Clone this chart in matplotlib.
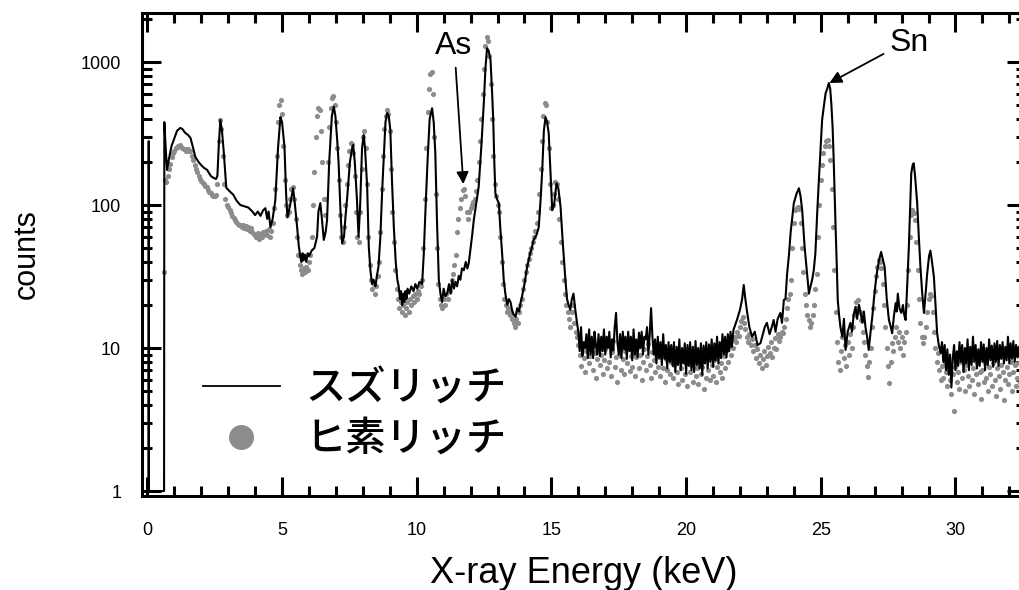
import numpy as np
import matplotlib
matplotlib.use("Agg")
import matplotlib.pyplot as plt
from matplotlib.lines import Line2D
from matplotlib.ticker import MultipleLocator, LogLocator, NullFormatter
from matplotlib.font_manager import FontProperties

plt.rcParams['font.family'] = ['Liberation Sans', 'DejaVu Sans']

# black line: Sn-rich sample (energy keV, counts)
line1_e = [0.00, 0.04, 0.05, 0.06, 0.62, 0.63, 0.68, 0.73, 0.80, 0.90, 0.98, 1.10, 1.22, 1.30, 1.40, 1.50,
           1.60, 1.70, 1.78, 1.90, 2.00, 2.10, 2.22, 2.35, 2.45, 2.55, 2.60, 2.65, 2.71, 2.77, 2.83, 2.93,
           3.05, 3.19, 3.30, 3.45, 3.60, 3.75, 3.90, 4.00, 4.10, 4.20, 4.30, 4.38, 4.45, 4.50, 4.57, 4.65,
           4.75, 4.85, 4.94, 5.00, 5.09, 5.15, 5.20, 5.30, 5.41, 5.48, 5.56, 5.62, 5.68, 5.72, 5.76, 5.80,
           5.85, 5.90, 5.95, 6.00, 6.10, 6.20, 6.30, 6.35, 6.42, 6.48, 6.55, 6.62, 6.67, 6.75, 6.85, 6.92,
           6.98, 7.05, 7.10, 7.17, 7.23, 7.30, 7.36, 7.42, 7.52, 7.60, 7.64, 7.70, 7.78, 7.84, 7.90, 7.97,
           8.03, 8.08, 8.16, 8.22, 8.28, 8.34, 8.40, 8.47, 8.52, 8.58, 8.65, 8.72, 8.77, 8.84, 8.90, 8.96,
           9.02, 9.08, 9.15, 9.22, 9.28, 9.33, 9.38, 9.42, 9.46, 9.50, 9.54, 9.58, 9.62, 9.66, 9.72, 9.80,
           9.88, 9.95, 10.02, 10.10, 10.20, 10.26, 10.32, 10.40, 10.48, 10.57, 10.63, 10.69, 10.75, 10.82,
           10.88, 10.94, 11.00, 11.06, 11.13, 11.20, 11.26, 11.32, 11.38, 11.44, 11.50, 11.56, 11.62, 11.68,
           11.75, 11.82, 11.88, 11.93, 12.00, 12.06, 12.12, 12.20, 12.30, 12.40, 12.49, 12.55, 12.61, 12.67,
           12.74, 12.80, 12.84, 12.88, 12.92, 12.98, 13.05, 13.10, 13.17, 13.23, 13.29, 13.36, 13.42, 13.48,
           13.55, 13.61, 13.67, 13.73, 13.80, 13.86, 13.91, 14.00, 14.10, 14.20, 14.27, 14.34, 14.45, 14.53,
           14.60, 14.66, 14.72, 14.78, 14.84, 14.90, 14.96, 15.03, 15.10, 15.19, 15.26, 15.34, 15.42, 15.52,
           15.58, 15.64, 15.70, 15.76, 15.82, 15.88, 15.95]
line1_c = [1, 1, 280, 1, 1, 380, 250, 176, 210, 260, 285, 330, 346, 340, 320, 310,
           295, 250, 217, 200, 190, 182, 176, 160, 155, 152, 160, 260, 393, 330, 243, 132,
           125, 118, 108, 100, 98, 96, 90, 85, 90, 84, 92, 95, 80, 90, 70, 80,
           108, 250, 412, 380, 255, 120, 82, 100, 131, 100, 70, 52, 43, 40, 46, 41,
           45, 40, 46, 44, 48, 50, 60, 90, 103, 80, 57, 65, 78, 200, 420, 487,
           420, 280, 196, 90, 54, 60, 85, 114, 200, 250, 263, 200, 110, 60, 100, 250,
           309, 250, 134, 51, 35, 28, 30, 27, 32, 37, 60, 130, 206, 380, 440, 420,
           335, 150, 70, 40, 30, 27, 22, 25, 20, 24, 21, 25, 22, 26, 24, 27,
           25, 28, 26, 29, 28, 45, 88, 200, 400, 475, 380, 230, 80, 30,
           24, 21, 26, 23, 24, 28, 24, 30, 26, 29, 27, 32, 30, 36,
           35, 40, 36, 39, 50, 62, 79, 100, 134, 260, 517, 900, 1250, 1200,
           1030, 600, 393, 200, 121, 110, 103, 70, 46, 30, 24, 20, 22, 21,
           18, 17, 16.5, 19, 18, 21, 23, 28, 37, 45, 50, 57, 62, 70,
           110, 176, 330, 412, 380, 318, 180, 92, 100, 142, 130, 97, 55, 30,
           22, 20, 18.5, 22, 24, 19, 15]

# noisy flat stretch of the black line, 0.05 keV channels from 16.00 keV
noise1_start = 16.00
noise1_c = [13, 9.5, 14, 8.8, 11, 10, 12.5, 8.5, 13.5, 9,
            12, 8.5, 13, 10.5, 9, 12.5, 8.8, 12, 9.5, 13.5,
            9, 12, 10, 13, 8.6, 11.5, 9.6, 14, 17.6, 11,
            9, 12.5, 8.5, 13, 9.8, 12, 8.4, 13, 9.5, 12,
            8.2, 13.5, 9, 11.5, 8.6, 12.8, 10, 13, 9, 12,
            11.5, 14, 9, 12.5, 19, 12, 9, 11.5, 7.8, 12,
            8.5, 11, 7.6, 12.5, 8.4, 10.5, 7.2, 11, 8, 10.5,
            7.5, 11, 6.8, 10.2, 7.6, 11.5, 7, 10, 7.8, 10.8,
            6.6, 10.5, 7.5, 11, 7, 10.2, 6.8, 11.2, 7.6, 10,
            7.2, 10.8, 6.5, 10.4, 7.8, 11, 7.2, 10.6, 8, 11.5,
            7.4, 10.8, 8.2, 12, 7.8, 11, 8.5, 12.5, 9, 12,
            8.6, 12.5, 9.5, 13, 10.2]

line2_e = [21.76, 21.90, 22.00, 22.08, 22.14, 22.20, 22.27, 22.35, 22.45, 22.55, 22.65, 22.76, 22.85, 22.92,
           23.00, 23.10, 23.18, 23.25, 23.32, 23.40, 23.50, 23.56, 23.63, 23.69, 23.75, 23.82, 23.88, 23.95,
           24.00, 24.10, 24.19, 24.25, 24.31, 24.40, 24.50, 24.56, 24.62, 24.68, 24.74, 24.80, 24.87, 24.93,
           25.00, 25.05, 25.12, 25.18, 25.24, 25.30, 25.35, 25.39, 25.44, 25.48, 25.52, 25.55, 25.60, 25.63,
           25.68, 25.73, 25.80, 25.86, 25.92, 26.00, 26.10, 26.16, 26.22, 26.29, 26.35, 26.42, 26.48, 26.55,
           26.60, 26.66, 26.72, 26.78, 26.85, 26.92, 26.97, 27.05, 27.10, 27.16, 27.24, 27.30, 27.37, 27.45,
           27.53, 27.60, 27.65, 27.72, 27.78, 27.82, 27.86, 27.92, 27.99, 28.05, 28.10, 28.15, 28.20, 28.27,
           28.32, 28.36, 28.41, 28.45, 28.50, 28.58, 28.64, 28.70, 28.76, 28.83, 28.90, 28.95, 29.02, 29.07,
           29.13, 29.20, 29.26, 29.32, 29.38, 29.45]
line2_c = [13.4, 16, 18.5, 22, 27.6, 22, 17.6, 14, 12, 13, 10.5, 10.8, 12.5, 14,
           15, 12.5, 14, 15.7, 13, 16, 17.6, 15, 21.7, 22, 33, 45, 64, 85,
           103, 120, 131, 115, 92, 51, 31.5, 24, 27, 30, 35, 46, 90, 150,
           260, 393, 500, 605, 650, 713, 650, 517, 350, 206, 110, 70, 35, 21.7,
           17, 14, 12, 16, 9.7, 13, 15, 13, 17, 19.4, 16, 20, 17.6, 15,
           18, 14, 12, 9.7, 13, 17, 21.7, 30, 35, 41, 47, 42, 37, 22,
           15.7, 14, 12.7, 17, 20.6, 18, 24, 19, 17.6, 20, 17, 15.7, 25, 51,
           100, 167, 190, 196, 160, 103, 60, 37, 25, 17.6, 25, 33, 44, 48,
           40, 31.5, 20, 12.7, 10.5, 9.2]

# noisy tail of the black line, 0.05 keV channels from 29.50 keV
noise2_start = 29.50
noise2_c = [11, 8, 10.5, 7, 9.8, 6.5, 9, 5.3, 8.5, 10.5,
            7, 9.5, 7.5, 11, 8, 10.5, 6.8, 10, 7.8, 11.5,
            7, 10.2, 7.6, 12, 8, 10.5, 7.2, 9.8, 7.5, 11,
            8, 10.6, 7, 10, 7.6, 11.5, 8.2, 10.4, 7.4, 10.8,
            8, 11.2, 7.5, 10.5, 8.4, 11, 7.8, 10.2, 8.2, 12,
            7.8, 10.8, 8.4, 11.2, 8, 10.5, 8.6, 10.2, 8.2, 11,
            8.5, 10.4, 9]

# grey dots: As-rich sample, one value per 0.05 keV channel starting at 0.60 keV
dot_start = 0.60
dot_c = [34, 150, 145, 160, 180, 195, 215, 230,                     # 0.60
         240, 250, 255, 258, 262, 255, 250, 245, 248, 240,          # 1.00
         245, 240, 238, 220, 205, 190, 180, 170, 160, 152,          # 1.50
         148, 143, 140, 136, 134, 128, 124, 121, 118, 116,          # 2.00
         115, 118, 140, 280, 390, 340, 220, 140, 110, 100,          # 2.50
         97, 92, 88, 84, 81, 78, 76, 74, 72, 73,                    # 3.00
         70, 72, 69, 71, 68, 70, 66, 69, 65, 63,                    # 3.50
         62, 60, 64, 58, 62, 60, 65, 63, 66, 62,                    # 4.00
         68, 60, 66, 75, 95, 130, 220, 380, 500, 540,               # 4.50
         430, 260, 150, 100, 85, 90, 110, 130, 134, 110,            # 5.00
         80, 60, 45, 38, 35, 33, 36, 34, 37, 35,                    # 5.50
         40, 45, 60, 100, 170, 300, 420, 480, 460, 330,             # 6.00
         200, 110, 85, 110, 200, 350, 480, 560, 575, 500,           # 6.50
         380, 250, 150, 85, 60, 55, 70, 100, 140, 190,              # 7.00
         240, 270, 265, 230, 160, 90, 60, 55, 90, 180,              # 7.50
         300, 330, 250, 140, 60, 38, 30, 26, 28, 24,                # 8.00
         27, 32, 40, 65, 130, 220, 340, 420, 460, 430,              # 8.50
         330, 180, 90, 55, 35, 26, 22, 19, 21, 18,                  # 9.00
         20, 17, 19, 21, 18, 22, 20, 23, 21, 24,                    # 9.50
         22, 25, 24, 27, 30, 50, 110, 250, 450, 650,                # 10.00
         820, 850, 600, 300, 120, 50, 28, 22, 20, 19,               # 10.50
         22, 20, 24, 22, 26, 25, 30, 33, 38, 45,                    # 11.00
         65, 80, 95, 110, 127, 130, 115, 90, 80, 90,                # 11.50
         95, 100, 105, 110, 125, 150, 200, 280, 400, 600,           # 12.00
         900, 1300, 1500, 1400, 1100, 700, 400, 220, 140, 115,      # 12.50
         100, 90, 60, 40, 28, 22, 20, 18, 19, 17,                   # 13.00
         18, 16, 15, 14, 16, 15, 18, 20, 22, 26,                    # 13.50
         30, 34, 38, 42, 46, 50, 55, 60, 66, 75,                    # 14.00
         90, 120, 180, 280, 420, 520, 500, 380, 250, 140,           # 14.50
         95, 100, 120, 145, 140, 110, 80, 55, 40, 30,               # 15.00
         24, 20, 18, 16, 14, 18, 20, 15, 13, 12,                    # 15.50
         10.5, 9.0, 7.5, 10.0, 8.5, 6.8, 9.5, 11.0, 7.8, 8.8,       # 16.00
         10.2, 7.0, 9.2, 6.2, 8.4, 10.8, 7.6, 9.0, 6.6, 8.2,        # 16.50
         9.8, 7.2, 10.5, 8.0, 6.4, 9.4, 11.2, 7.4, 8.6, 5.8,        # 17.00
         9.0, 10.0, 7.0, 8.4, 6.6, 9.6, 7.8, 10.4, 6.9, 8.8,        # 17.50
         7.4, 9.2, 6.4, 8.6, 10.2, 7.2, 9.0, 6.0, 8.0, 9.8,         # 18.00
         7.0, 8.8, 10.6, 7.6, 6.2, 9.4, 8.2, 6.8, 9.0, 7.4,         # 18.50
         8.6, 6.4, 9.6, 7.2, 5.8, 8.4, 7.0, 9.2, 6.6, 8.0,          # 19.00
         6.2, 7.6, 9.0, 6.8, 5.6, 8.2, 7.2, 6.0, 8.8, 6.6,          # 19.50
         7.8, 5.4, 8.4, 6.8, 7.6, 5.8, 9.0, 6.4, 7.2, 5.6,          # 20.00
         8.0, 6.6, 7.4, 5.2, 8.6, 6.2, 7.0, 9.2, 6.0, 7.6,          # 20.50
         6.4, 8.2, 5.8, 7.4, 9.0, 6.8, 7.8, 6.2, 8.8, 7.2,          # 21.00
         9.6, 8.0, 10.4, 9.0, 11.4, 10.0, 12.0, 11.0, 13.0, 12.2,   # 21.50
         14, 15.5, 16.5, 15, 13.5, 12, 11, 12.5, 10.5, 11.5,        # 22.00
         9.5, 10.5, 8.5, 9.8, 7.8, 9.0, 7.2, 8.4, 9.6, 7.6,         # 22.50
         8.8, 10.2, 9.2, 11.0, 8.6, 10.0, 11.8, 9.8, 12.6, 11.2,    # 23.00
         12, 13, 12.7, 14, 16, 19, 22, 24, 30, 50,                  # 23.50
         75, 92, 95, 97, 94, 75, 50, 34, 24, 20,                    # 24.00
         17, 15.7, 14, 15, 17, 20, 26, 33, 60, 100,                 # 24.50
         150, 190, 230, 260, 280, 285, 260, 206, 130, 70,           # 25.00
         35, 18, 11, 8, 7, 9.5, 12, 8.5, 10.5, 7.5,                 # 25.50
         11, 9, 12.5, 10, 14, 17, 21, 19, 21.7, 18,                 # 26.00
         15.7, 13, 11, 9, 7.5, 6.3, 8, 10, 14, 19,                  # 26.50
         25, 32, 37, 41, 40, 36, 28, 20, 14, 10,                    # 27.00
         7.5, 5.7, 8, 10.8, 9.5, 12, 14, 11, 13, 10,                # 27.50
         12, 9, 11, 13, 20, 35, 60, 85, 92, 88,                     # 28.00
         78, 55, 35, 22, 15, 12, 10.8, 12, 14, 18,                  # 28.50
         22, 24, 23, 18, 13, 10, 8, 9.2, 7, 6,                      # 29.00
         7.5, 6.2, 8.0, 6.8, 5.4, 7.2, 6.0, 4.8, 6.6, 3.6,          # 29.50
         7.4, 5.8, 6.8, 5.2, 8.0, 6.2, 7.0, 5.0, 7.6, 6.4,          # 30.00
         5.4, 8.2, 6.0, 7.2, 4.8, 6.6, 7.8, 5.6, 6.8, 4.4,          # 30.50
         7.0, 5.8, 8.0, 6.2, 5.0, 7.4, 6.6, 5.4, 7.8, 6.0,          # 31.00
         4.6, 7.2, 6.4, 5.2, 7.6, 6.8, 4.3, 6.0, 7.4, 5.6,          # 31.50
         6.6, 8.0, 5.0, 6.8, 7.6, 5.4, 6.2, 7.8, 5.8, 6.6,          # 32.00
         7.2, 5.6, 6.8]                                             # 32.50

channel = 0.05  # keV per channel for the evenly sampled stretches

x_ticks = [0, 5, 10, 15, 20, 25, 30]
y_ticks = [1, 10, 100, 1000]
y_tick_labels = ['1', '10', '100', '1000']
legend_labels = ['スズリッチ', 'ヒ素リッチ']

line_e = np.concatenate([line1_e, noise1_start + channel * np.arange(len(noise1_c)),
                         line2_e, noise2_start + channel * np.arange(len(noise2_c))])
line_c = np.concatenate([line1_c, noise1_c, line2_c, noise2_c])
dot_e = dot_start + channel * np.arange(len(dot_c))

fig = plt.figure(figsize=(10.2, 5.9), dpi=100)
ax = fig.add_axes([0.1392, 0.1593, 0.8667, 0.8186])

ax.scatter(dot_e, dot_c, s=14, color='#8c8c8c', linewidths=0, zorder=2)
ax.plot(line_e, line_c, color='black', lw=1.5, zorder=3)

ax.set_yscale('log')
ax.set_xlim(-0.2, 32.62)
ax.set_ylim(0.923, 2200)

ax.set_xticks(x_ticks)
ax.xaxis.set_minor_locator(MultipleLocator(1))
ax.set_yticks(y_ticks, y_tick_labels)
ax.yaxis.set_minor_locator(LogLocator(base=10, subs=range(2, 10)))
ax.yaxis.set_minor_formatter(NullFormatter())

for sp in ax.spines.values():
    sp.set_linewidth(2.2)
ax.tick_params(which='both', direction='in', top=True, right=True, width=2.2, labelsize=13)
ax.tick_params(which='major', length=13.5)
ax.tick_params(which='minor', length=7.5)
ax.tick_params(axis='x', pad=19)
ax.tick_params(axis='y', pad=15)

ax.set_xlabel('X-ray Energy (keV)', fontsize=26, labelpad=12)
ax.set_ylabel('counts', fontsize=22, labelpad=28)

arrow = dict(arrowstyle='-|>', color='black', lw=1.3, mutation_scale=18, shrinkA=3, shrinkB=0)
ax.annotate('As', xy=(11.73, 140), xytext=(11.36, 1300), fontsize=23, ha='center', va='center',
            arrowprops=dict(arrow, relpos=(0.55, 0.0)))
ax.annotate('Sn', xy=(25.32, 713), xytext=(28.3, 1360), fontsize=23, ha='center', va='center',
            arrowprops=dict(arrow, relpos=(0.0, 0.25)))

handles = [Line2D([], [], color='black', lw=1.3),
           Line2D([], [], ls='none', marker='o', ms=18, color='#8c8c8c', mec='none')]
jp = FontProperties(family=['Noto Sans CJK JP', 'DejaVu Sans'], size=29, weight='medium')
ax.legend(handles, legend_labels, prop=jp, frameon=False, loc='upper left',
          bbox_to_anchor=(0.069, 0.265), borderpad=0, borderaxespad=0,
          handlelength=1.9, handletextpad=0.65, labelspacing=0.25)

fig.savefig('out.png', dpi=100)
